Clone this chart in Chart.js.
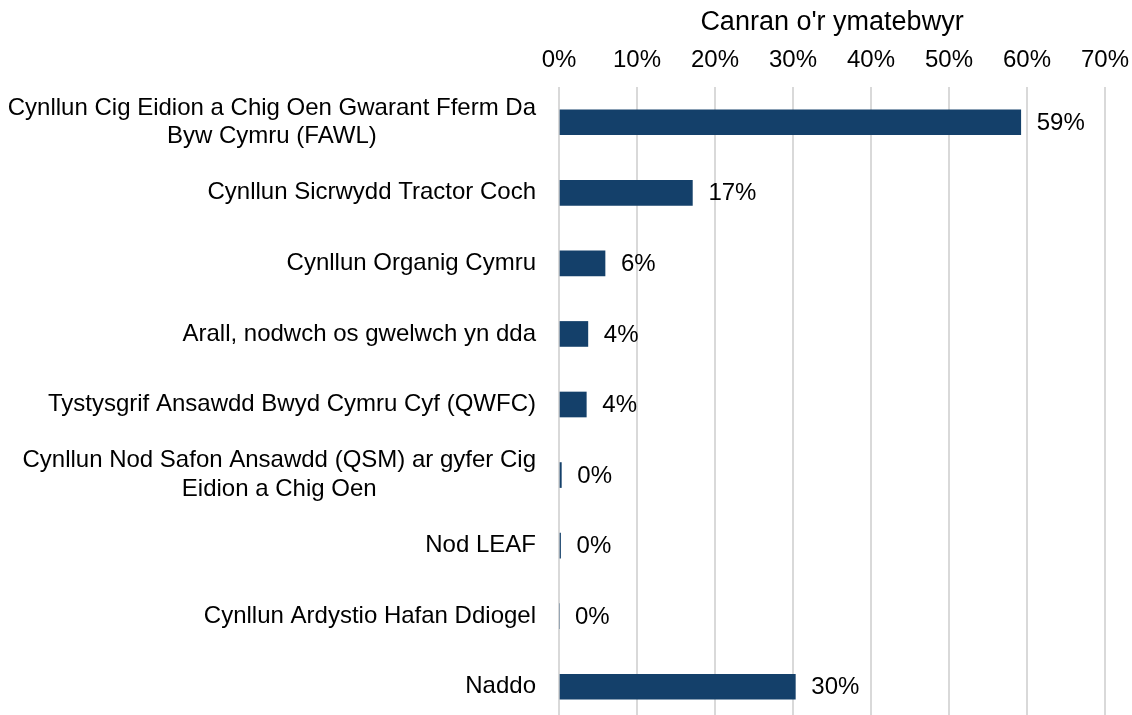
<!DOCTYPE html>
<html>
<head>
<meta charset="utf-8">
<script src="https://cdn.jsdelivr.net/npm/chart.js@4.4.1/dist/chart.umd.min.js"></script>
<style>
  html, body { margin: 0; padding: 0; background: #fff; overflow: hidden; }
  #wrap { width: 1132px; height: 726px; position: relative; }
</style>
</head>
<body>
<div id="wrap"><canvas id="c"></canvas></div>
<script>
const categories = [
  ["Cynllun Cig Eidion a Chig Oen Gwarant Fferm Da", "Byw Cymru (FAWL)"],
  ["Cynllun Sicrwydd Tractor Coch"],
  ["Cynllun Organig Cymru"],
  ["Arall, nodwch os gwelwch yn dda"],
  ["Tystysgrif Ansawdd Bwyd Cymru Cyf (QWFC)"],
  ["Cynllun Nod Safon Ansawdd (QSM) ar gyfer Cig", "Eidion a Chig Oen"],
  ["Nod LEAF"],
  ["Cynllun Ardystio Hafan Ddiogel"],
  ["Naddo"]
];
const values = [59.2, 17.1, 5.9, 3.7, 3.5, 0.3, 0.2, 0, 30.3];
const valueLabels = ["59%", "17%", "6%", "4%", "4%", "0%", "0%", "0%", "30%"];
const axisTitle = "Canran o'r ymatebwyr";
const xTicks = [0, 10, 20, 30, 40, 50, 60, 70];

const FONT = "'Liberation Sans', Arial, sans-serif";
const FS = 24;

const yLabelPlugin = {
  id: 'yLabels',
  afterDraw(chart) {
    const ctx = chart.ctx;
    const y = chart.scales.y;
    ctx.save();
    ctx.font = FS + "px " + FONT;
    ctx.fillStyle = '#000';
    ctx.textBaseline = 'middle';
    ctx.textAlign = 'center';
    const right = chart.chartArea.left - 23;
    const lh = 28.5;
    categories.forEach((lines, i) => {
      const cy = y.getPixelForValue(i);
      const w = Math.max(...lines.map(l => ctx.measureText(l).width));
      const cx = right - w / 2;
      const start = cy - (lines.length - 1) * lh / 2;
      lines.forEach((l, j) => ctx.fillText(l, cx, start + j * lh));
    });
    ctx.restore();
  }
};

const dataLabelPlugin = {
  id: 'dataLabels',
  afterDatasetsDraw(chart) {
    const ctx = chart.ctx;
    const meta = chart.getDatasetMeta(0);
    ctx.save();
    ctx.font = FS + "px " + FONT;
    ctx.fillStyle = '#000';
    ctx.textBaseline = 'middle';
    ctx.textAlign = 'left';
    meta.data.forEach((bar, i) => {
      ctx.fillText(valueLabels[i], bar.x + 16, bar.y + 1);
    });
    ctx.restore();
  }
};

new Chart(document.getElementById('c'), {
  type: 'bar',
  data: {
    labels: categories.map(c => c.join(' ')),
    datasets: [{
      data: values,
      backgroundColor: '#14406A',
      borderWidth: 0,
      barThickness: 25
    }]
  },
  options: {
    indexAxis: 'y',
    responsive: true,
    maintainAspectRatio: false,
    animation: false,
    layout: { padding: { left: 0, right: 27, top: 0, bottom: 4 } },
    plugins: { legend: { display: false }, tooltip: { enabled: false } },
    scales: {
      x: {
        position: 'top',
        min: 0,
        max: 70,
        afterBuildTicks(scale) { scale.ticks = xTicks.map(v => ({ value: v })); },
        afterFit(scale) { scale.height = 87; scale.paddingLeft = 0; scale.paddingRight = 0; },
        ticks: {
          callback: v => v + '%',
          font: { family: FONT, size: FS },
          color: '#000',
          padding: 12,
          maxRotation: 0
        },
        grid: { color: '#d9d9d9', lineWidth: 2, drawTicks: false },
        border: { display: false },
        title: {
          display: true,
          text: axisTitle,
          font: { family: FONT, size: 27 },
          color: '#000',
          padding: { top: 6, bottom: 0 }
        }
      },
      y: {
        afterFit(scale) { scale.width = 559; },
        ticks: { display: false },
        grid: { display: false, drawTicks: false },
        border: { display: false }
      }
    }
  },
  plugins: [yLabelPlugin, dataLabelPlugin]
});
</script>
</body>
</html>
